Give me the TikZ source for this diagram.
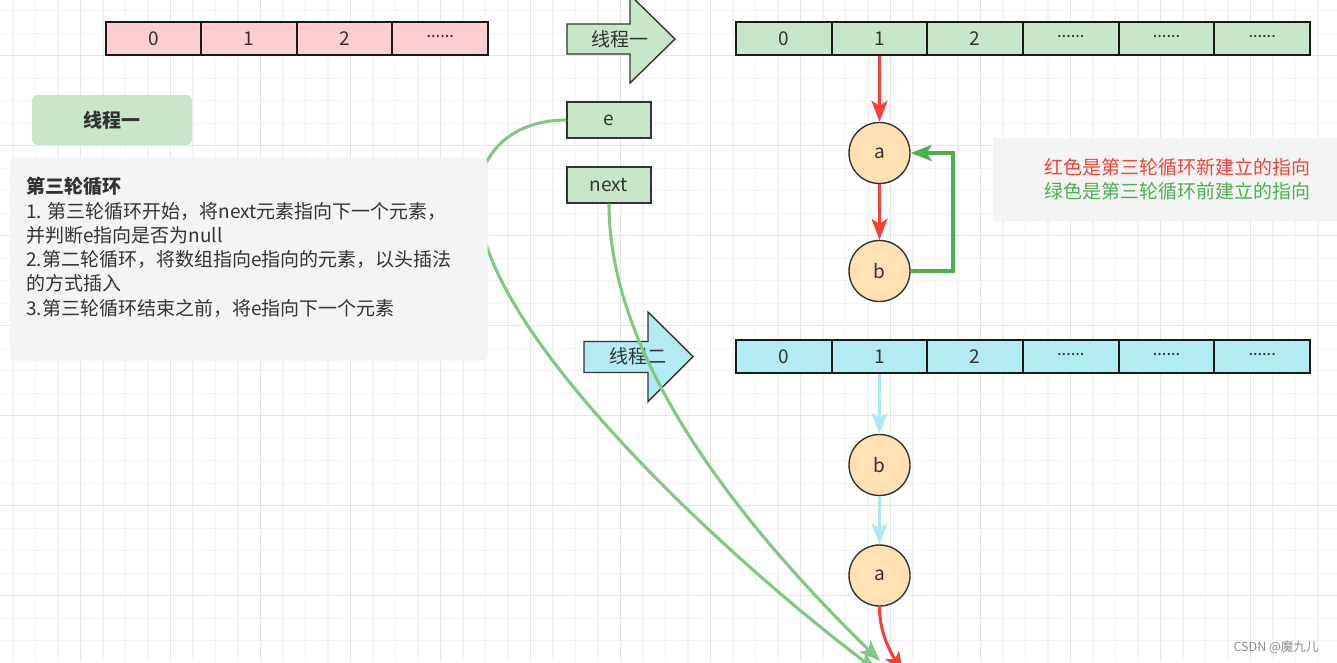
\documentclass[tikz,border=0pt]{standalone}
\usepackage{fontspec}
\setmainfont{Noto Sans CJK SC}
\newfontfamily\dotfont{Noto Sans}
\newcommand\sixdots{{\dotfont\fontsize{17}{20}\selectfont ······}}
\usetikzlibrary{arrows.meta}
\definecolor{pinkfill}{HTML}{FFCDD2}
\definecolor{greenfill}{HTML}{C8E6C9}
\definecolor{cyanfill}{HTML}{B2EBF2}
\definecolor{orangefill}{HTML}{FFE0B2}
\definecolor{redc}{HTML}{F44336}
\definecolor{dgreen}{HTML}{4CAF50}
\definecolor{lgreen}{HTML}{82C785}
\definecolor{cyanline}{HTML}{AEE8F0}
\definecolor{boxgray}{HTML}{F4F4F4}
\definecolor{txt}{HTML}{333333}
\definecolor{minorgrid}{HTML}{F3F3F3}
\definecolor{majorgrid}{HTML}{E6E6E6}
\begin{document}
\begin{tikzpicture}[x=1pt,y=-1pt,
  every node/.style={text=txt, font=\fontsize{19}{24.4}\selectfont},
  cell/.style={draw=black!90, line width=2pt, minimum width=95.67pt, minimum height=33pt, inner sep=0pt},
  smallbox/.style={draw=txt, line width=1.4pt, fill=greenfill, minimum width=84pt, minimum height=36pt, inner sep=0pt},
  circ/.style={circle, draw=txt, line width=1.4pt, fill=orangefill, minimum size=61pt, inner sep=0pt},
  blockarrow/.style={draw=txt, line width=1.4pt, line join=miter},
  tip/.style={-{Stealth[length=21pt,width=16pt,inset=5pt]}},
  conn/.style={line width=3.1pt, tip},
  lineL/.style={anchor=base west, inner sep=0pt}
]
\clip (0,0) rectangle (1337,662);
\fill[white] (0,0) rectangle (1337,662);
% grid
\foreach \x in {13,35.5,...,1340} \draw[minorgrid, line width=1.1pt] (\x,0) -- (\x,662);
\foreach \y in {10.7,33.2,...,665} \draw[minorgrid, line width=1.1pt] (0,\y) -- (1337,\y);
\foreach \x in {80.5,170.5,...,1340} \draw[majorgrid, line width=1.3pt] (\x,0) -- (\x,662);
\foreach \y in {55.7,145.7,...,665} \draw[majorgrid, line width=1.3pt] (0,\y) -- (1337,\y);

% thread-2 block arrow
\draw[blockarrow, fill=cyanfill] (584,341.5) -- (648,341.5) -- (648,312) -- (693,356.5) -- (648,401.5) -- (648,372.5) -- (584,372.5) -- cycle;
\node (t2) at (637.5,356.5) {线程二};

% boxes e and next
\node[smallbox] (e) at (609,120) {e};
\node[smallbox] (nx) at (609,185) {next};

% target points below the visible area
\coordinate (tgtE) at (877,671);
\coordinate (tgtN) at (880,661);
\coordinate (tgtR) at (903,673);

% light green curves
\draw[lgreen, line width=3.1pt, tip] (e.west) .. controls (515,120) and (478,150) .. (478,200)
   .. controls (478,330) and (730,560) .. (tgtE);
\draw[lgreen, line width=3.1pt, tip] (nx.south) .. controls (609,330) and (695,480) .. (tgtN);

% gray text box (drawn over the curve)
\fill[boxgray, rounded corners=5pt] (10,157.5) rectangle (487.5,360.5);
\node[lineL, font=\fontsize{19}{24.4}\selectfont\bfseries] (l1) at (26,193) {第三轮循环};
\node[lineL] (l2) at (26,218) {1. 第三轮循环开始，将next元素指向下一个元素，};
\node[lineL] (l3) at (26,242) {并判断e指向是否为null};
\node[lineL] (l4) at (26,266) {2.第二轮循环，将数组指向e指向的元素，以头插法};
\node[lineL] (l5) at (26,290) {的方式插入};
\node[lineL] (l6) at (26,315) {3.第三轮循环结束之前，将e指向下一个元素};

% label box 线程一
\node[fill=greenfill, rounded corners=5pt, minimum width=160pt, minimum height=50pt, inner sep=0pt,
      font=\fontsize{19}{24.4}\selectfont\bfseries] (lab1) at (112,120) {线程一};

% pink array
\node[cell, fill=pinkfill] (p0) at (153.75,38.5) {0};
\node[cell, fill=pinkfill] (p1) at (249.25,38.5) {1};
\node[cell, fill=pinkfill] (p2) at (344.75,38.5) {2};
\node[cell, fill=pinkfill] (p3) at (440.25,38.5) {\sixdots};

% thread-1 block arrow
\draw[blockarrow, fill=greenfill] (567,24) -- (630,24) -- (630,-5) -- (675,39) -- (630,83) -- (630,54) -- (567,54) -- cycle;
\node (t1) at (620,39) {线程一};

% green array
\node[cell, fill=greenfill] (g0) at (783.83,38.5) {0};
\node[cell, fill=greenfill] (g1) at (879.5,38.5) {1};
\node[cell, fill=greenfill] (g2) at (975.17,38.5) {2};
\node[cell, fill=greenfill] (g3) at (1070.83,38.5) {\sixdots};
\node[cell, fill=greenfill] (g4) at (1166.5,38.5) {\sixdots};
\node[cell, fill=greenfill] (g5) at (1262.17,38.5) {\sixdots};

% cyan array
\node[cell, fill=cyanfill] (c0) at (783.83,356.5) {0};
\node[cell, fill=cyanfill] (c1) at (879.5,356.5) {1};
\node[cell, fill=cyanfill] (c2) at (975.17,356.5) {2};
\node[cell, fill=cyanfill] (c3) at (1070.83,356.5) {\sixdots};
\node[cell, fill=cyanfill] (c4) at (1166.5,356.5) {\sixdots};
\node[cell, fill=cyanfill] (c5) at (1262.17,356.5) {\sixdots};

% nodes of thread 1
\node[circ] (a1) at (879.5,153) {a};
\node[circ] (b1) at (879.5,271) {b};
\draw[redc, conn] (g1.south) -- (a1.north);
\draw[redc, conn] (a1.south) -- (b1.north);
\draw[dgreen, conn, line join=miter] (b1.east) -- (953,271) -- (953,153) -- (a1.east);

% nodes of thread 2
\node[circ] (b2) at (879.5,465) {b};
\node[circ] (a2) at (879.5,575.5) {a};
\draw[cyanline, conn] (c1.south) -- (b2.north);
\draw[cyanline, conn] (b2.south) -- (a2.north);
\draw[redc, conn] (a2.south) .. controls (879.5,630) and (888,648) .. (tgtR);

% legend
\fill[boxgray] (992.5,137.5) rectangle (1337,221);
\node[align=center, inner sep=0pt] (leg) at (1177,179.5)
  {\textcolor{redc}{红色是第三轮循环新建立的指向}\\ \textcolor{dgreen}{绿色是第三轮循环前建立的指向}};

% watermark
\node[font=\fontsize{12.5}{14}\selectfont, text=black!45] (wm) at (1276,647) {CSDN @魔九儿};
\end{tikzpicture}
\end{document}
